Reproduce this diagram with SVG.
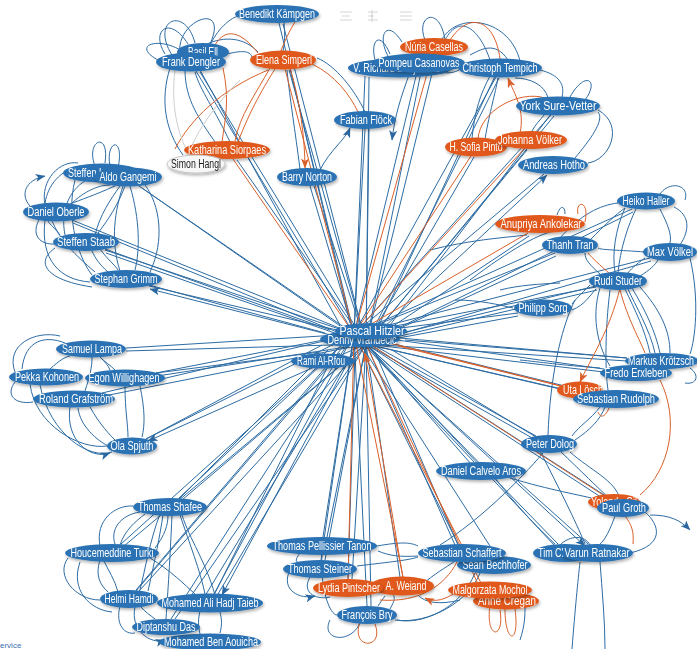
<svg xmlns="http://www.w3.org/2000/svg" width="697" height="649" viewBox="0 0 697 649">
<style>
.eb{fill:none;stroke:#2d6ca3;stroke-width:1}
.eo{fill:none;stroke:#d9602a;stroke-width:1}
.eg{fill:none;stroke:#cfcfcf;stroke-width:1}
.nb ellipse{fill:#2a72b3}
.no ellipse{fill:#e0591b}
.nw ellipse{fill:#f7f7f7;stroke:#c4c4c4;stroke-width:1}
g.n{filter:url(#sh)}
text{font-family:"Liberation Sans",Arial,sans-serif;font-size:12px;fill:#fff;text-anchor:middle}
.nw text{fill:#222}
.ic{fill:none;stroke:#bbb;stroke-width:1.2;opacity:.6}
</style>
<defs>
<filter id="sh" x="-20%" y="-40%" width="140%" height="200%">
<feDropShadow dx="1" dy="2" stdDeviation="1.5" flood-color="#000" flood-opacity="0.3"/>
</filter>
<marker id="ab" viewBox="0 0 10 8" refX="9.5" refY="4" markerWidth="10" markerHeight="8" markerUnits="userSpaceOnUse" orient="auto"><path d="M0,0 L10,4 L0,8 L2.5,4z" fill="#2a67a0"/></marker>
<marker id="ao" viewBox="0 0 10 8" refX="9.5" refY="4" markerWidth="10" markerHeight="8" markerUnits="userSpaceOnUse" orient="auto"><path d="M0,0 L10,4 L0,8 L2.5,4z" fill="#d9602a"/></marker>
</defs>
<rect width="697" height="649" fill="#fff"/>
<g id="toolbar">
<path class="ic" d="M340 12h12M342 16h8M340 20h12M368 12h10M368 16h6M368 20h10M372 10v12M400 12h12M400 16h12M400 20h12"/>
</g>
<text x="-4" y="648" style="font-size:8px;fill:#3b6fb0;text-anchor:start">service</text>
<g id="connectors">
<g class="eb" marker-end="url(#ab)">
<path d="M354 334L279 23M366 344L283 24M354 334L196 71M366 344L200 72M366 344L289 70M354 334L365 129M366 344L369 129M366 344L237 160M354 334L310 186M366 344L314 186M366 344L436 57M354 334L417 72M366 344L421 72M354 334L365 76M366 344L369 77M354 334L496 77M366 344L499 78M354 334L551 115M366 344L554 116M366 344L474 157M366 344L527 150M354 334L544 174M366 344L547 175"/>
<path d="M354 334L139 186M366 344L142 188M354 334L72 220M366 344L73 223M354 334L105 250M366 344L106 253M354 334L149 286M366 344L150 289"/>
<path d="M354 334L632 209M366 344L633 212M366 344L529 236M354 334L555 253M366 344L556 256M354 334L650 258M366 344L651 261M354 334L596 287M366 344L597 290M354 334L518 313M366 344L518 316M354 334L627 358M366 344L627 361M354 334L604 369M366 344L604 372M366 344L560 389M354 334L589 392M366 344L588 395M354 334L536 436M366 344L534 439M354 334L474 462M366 344L471 464M354 334L612 500M366 344L610 503M354 334L558 544M366 344L555 546M354 334L588 544M366 344L585 546"/>
<path d="M354 334L458 544M366 344L455 545M354 334L497 557M366 344L400 577M366 344L352 579M354 334L367 606M366 344L371 606M354 334L321 560M366 344L325 560M354 334L323 537M366 344L327 537M354 334L179 498M366 344L182 500M354 334L121 544M366 344L124 546M354 334L136 590M366 344L139 591M354 334L214 594M366 344L218 594M354 334L171 619M366 344L175 619M360 340L205 596M360 340L222 595"/>
<path d="M354 334L126 348M366 344L126 351M354 334L156 373M366 344L157 376M354 334L102 393M366 344L104 396M354 334L146 439M366 344L148 441"/>
<path d="M200 70L340 325M290 68L350 323M495 76L380 323M596 286L402 333M536 437L392 350M458 545L375 352M348 580L355 353M214 595L335 352M179 499L328 350M146 439L322 345M149 285L325 333M105 249L330 330M551 114L390 325M627 358L405 340M156 373L320 352M136 591L340 353"/>
<path d="M172 55C150 20 185 5 195 43M180 54C175 20 230 0 210 44M210 45C220 25 232 18 238 16M158 60C130 45 160 35 185 53M165 54C150 30 170 15 188 44M205 45C225 35 245 38 258 52M220 56C240 50 250 50 252 57M284 22C285 35 285 40 283 51M365 112C355 90 335 65 317 58M185 70C185 100 200 120 215 142M230 142C215 110 200 90 195 72M170 68C160 100 165 130 183 155M300 169C295 130 290 100 287 70M320 170C330 150 345 140 350 128"/>
<path d="M392 62C375 40 385 15 402 42M425 40C415 15 440 5 445 40M445 40C460 12 480 30 490 60M375 60C370 40 380 30 390 54M520 61C510 20 460 10 442 39M470 55C480 50 495 40 508 60M540 70C560 75 565 85 562 97M548 98C545 85 530 78 515 78M598 110C625 125 610 160 588 163M575 158C590 140 605 120 598 112M545 114C540 120 535 125 532 131M490 76C480 95 475 110 472 138M485 139C490 110 495 95 498 78M440 72C450 74 455 72 459 70M585 100C600 80 585 70 570 97M410 72C400 100 395 115 392 140"/>
<path d="M95 166C85 140 110 130 105 163M110 166C105 140 125 135 118 168M45 205C40 180 60 160 78 163M80 166C60 170 48 185 45 203M70 205C85 190 100 185 110 185M115 186C95 195 80 200 70 204M40 218C30 235 40 245 55 244M60 235C55 228 50 225 48 221M45 220C40 260 60 280 90 282M95 272C75 255 60 240 52 221M95 235C100 215 110 200 120 186M125 186C118 205 108 220 98 233M100 249C108 260 115 265 118 270M108 272C100 265 95 258 92 251M130 186C140 220 140 250 135 270M120 271C110 240 115 210 123 186M75 180C65 220 80 260 92 275M65 235C60 210 70 190 85 181M150 272C165 240 160 205 145 185M55 248C35 262 45 280 92 287M30 206C20 195 25 180 45 176"/>
<path d="M660 194C670 180 690 185 685 200M625 208C615 230 612 255 615 272M618 273C620 250 628 225 636 209M660 209C668 225 672 235 670 243M680 245C690 230 690 215 674 207M590 240C605 225 615 215 625 208M560 238C580 215 600 205 618 203M565 214C565 205 560 205 557 215M600 274C590 265 585 260 585 253M640 276C650 270 655 265 658 260M645 258C635 265 630 270 628 273M645 252C620 250 600 250 598 248M690 258C700 300 695 340 690 354M590 285C580 295 575 300 572 304M572 310C585 305 590 295 596 289M625 289C635 310 645 330 650 353M632 288C645 310 655 330 660 353M640 287C660 310 670 330 670 353M655 353C650 330 635 305 628 289M600 288C590 320 600 350 610 366M610 290C605 330 605 370 608 390M690 368C700 375 697 385 685 383M575 440C590 430 600 420 605 407M600 407C590 420 580 425 572 436M560 451C580 470 600 490 610 499M570 452C590 470 615 480 620 499M510 478C550 490 580 495 600 500M615 516C610 530 605 540 600 544M645 512C660 525 665 545 630 553M560 545C570 535 585 535 590 545M540 451C560 490 575 520 585 544M495 478C520 510 540 530 555 544M572 649C575 610 578 580 580 562M605 649C605 620 602 590 600 562M440 545C480 520 520 480 543 453M500 290C520 285 540 284 560 283M455 300C480 300 500 305 513 308M470 280C510 250 540 232 560 230M575 300C560 330 550 380 548 435M520 360C540 362 560 365 600 368M430 250C470 240 500 238 527 235M650 515C670 515 680 520 690 530"/>
<path d="M377 546C400 542 410 542 418 546M418 556C400 557 390 556 378 551M357 566C390 562 410 560 418 557M425 582C440 570 450 565 455 561M395 620C430 625 470 600 480 573M475 573C460 610 420 625 397 620M460 600C440 605 425 603 418 595M390 609C395 600 395 598 393 594M385 596C382 600 380 603 378 606M310 577C300 595 320 600 330 597M300 553C295 560 295 562 300 563M322 554C320 590 330 615 337 615M520 640C525 625 525 615 525 607M330 620C320 640 350 645 360 623M290 570C280 590 300 600 315 596"/>
<path d="M140 512C120 515 110 530 115 544M120 545C125 530 135 522 145 514M100 546C95 520 115 505 133 506M100 560C95 575 100 585 108 592M118 592C115 580 108 570 104 561M68 558C55 575 75 600 100 600M160 514C150 540 145 570 140 590M148 591C155 560 160 535 163 515M180 515C190 545 200 570 205 594M215 595C205 560 190 540 182 515M172 515C170 560 168 590 166 619M150 558C170 570 185 585 195 594M120 606C115 625 125 635 135 633M140 606C145 612 150 615 155 619M200 611C198 620 198 625 200 634M220 633C222 625 222 620 220 612M155 548C165 535 168 525 168 515M80 562C70 590 90 610 112 612M135 607C130 630 150 645 165 640"/>
<path d="M15 372C5 345 35 330 60 336M65 343C45 335 25 340 22 369M100 357C105 362 108 365 110 370M115 370C110 365 105 362 100 357M50 369C60 360 65 357 70 356M85 391C90 375 92 368 92 357M140 386C145 410 145 425 142 437M125 386C125 410 128 425 128 437M90 407C100 425 110 435 115 440M112 448C95 440 80 425 78 408M30 384C35 425 80 450 107 446M40 385C50 435 90 460 112 452M15 382C5 395 15 405 33 402M70 407C65 440 90 460 110 453"/>
</g>
<g class="eo" marker-end="url(#ao)">
<path d="M354 334L285 69M354 334L233 159M354 334L432 56M354 334L471 156M354 334L524 149M354 334L528 233M354 334L561 386M354 334L603 495M354 334L481 583M366 344L478 584M354 334L403 577M354 334L348 579M561 386L398 346M403 578L365 353"/>
<path d="M258 53C240 30 225 28 215 45M278 58C285 40 290 30 295 22M312 64C335 75 350 95 358 112M270 68C255 95 240 115 235 141M238 142C250 110 265 85 275 69M268 70C220 90 190 120 175 149M222 142C225 120 230 100 223 68M290 68C300 100 305 140 305 168"/>
<path d="M450 40C470 10 495 20 500 59M478 139C480 110 520 90 545 98M520 133C525 110 515 95 508 78"/>
<path d="M585 222C590 200 575 200 578 214M610 274C600 265 592 258 588 253M620 290C628 320 640 340 645 353M660 380C680 420 670 470 640 495M598 412C600 418 605 418 609 408M625 516C632 525 634 532 633 544M620 288C610 330 590 360 580 382"/>
<path d="M380 600C420 603 445 585 457 562M360 622C350 650 385 650 375 624M490 605C485 640 505 640 500 610M505 609C505 645 520 645 515 609M460 590C445 600 435 603 425 598"/>
</g>
<path class="eg" d="M175 70C170 110 180 140 190 156M240 80C220 100 200 125 190 150"/>
</g>
<g id="nodes">
<g id="n-benedikt" class="n nb"><ellipse cx="277" cy="14" rx="42" ry="9"/><text x="277" y="18" textLength="76" lengthAdjust="spacingAndGlyphs">Benedikt Kämpgen</text></g>
<g id="n-basil" class="n nb"><ellipse cx="203" cy="52" rx="26" ry="9"/><text x="203" y="56" textLength="30" lengthAdjust="spacingAndGlyphs">Basil Ell</text></g>
<g id="n-frank" class="n nb"><ellipse cx="191" cy="62" rx="35" ry="9.5"/><text x="191" y="66" textLength="58" lengthAdjust="spacingAndGlyphs">Frank Dengler</text></g>
<g id="n-elena" class="n no"><ellipse cx="283" cy="60" rx="33" ry="9.5"/><text x="284" y="64" textLength="56" lengthAdjust="spacingAndGlyphs">Elena Simperl</text></g>
<g id="n-fabian" class="n nb"><ellipse cx="365" cy="120" rx="31" ry="9"/><text x="366" y="124" textLength="52" lengthAdjust="spacingAndGlyphs">Fabian Flöck</text></g>
<g id="n-katharina" class="n no"><ellipse cx="227" cy="150" rx="43" ry="9"/><text x="227" y="154" textLength="78" lengthAdjust="spacingAndGlyphs">Katharina Siorpaes</text></g>
<g id="n-simon" class="n nw"><ellipse cx="196" cy="164" rx="29" ry="9"/><text x="196" y="168" textLength="50" lengthAdjust="spacingAndGlyphs">Simon Hangl</text></g>
<g id="n-barry" class="n nb"><ellipse cx="307" cy="177" rx="30" ry="9"/><text x="307" y="181" textLength="50" lengthAdjust="spacingAndGlyphs">Barry Norton</text></g>
<g id="n-nuria" class="n no"><ellipse cx="434" cy="47" rx="34" ry="9"/><text x="434" y="51" textLength="58" lengthAdjust="spacingAndGlyphs">Núria Casellas</text></g>
<g id="n-vrich" class="n nb"><ellipse cx="400" cy="68" rx="52" ry="9.5"/><text x="353" y="72" style="text-anchor:start" textLength="87" lengthAdjust="spacingAndGlyphs">V. Richard Benjamins</text></g>
<g id="n-pompeu" class="n nb"><ellipse cx="419" cy="63" rx="46" ry="9.5"/><text x="419" y="67" textLength="81" lengthAdjust="spacingAndGlyphs">Pompeu Casanovas</text></g>
<g id="n-christoph" class="n nb"><ellipse cx="500" cy="68" rx="42" ry="9.5"/><text x="500" y="72" textLength="75" lengthAdjust="spacingAndGlyphs">Christoph Tempich</text></g>
<g id="n-york" class="n nb"><ellipse cx="558" cy="106" rx="42" ry="9.5"/><text x="558" y="110" textLength="77" lengthAdjust="spacingAndGlyphs">York Sure-Vetter</text></g>
<g id="n-sofia" class="n no"><ellipse cx="476" cy="147" rx="31" ry="9.5"/><text x="476" y="151" textLength="53" lengthAdjust="spacingAndGlyphs">H. Sofia Pinto</text></g>
<g id="n-johanna" class="n no"><ellipse cx="531" cy="140" rx="36" ry="9"/><text x="530" y="144" textLength="64" lengthAdjust="spacingAndGlyphs">Johanna Völker</text></g>
<g id="n-andreas" class="n nb"><ellipse cx="553" cy="165" rx="35" ry="9"/><text x="554" y="169" textLength="62" lengthAdjust="spacingAndGlyphs">Andreas Hotho</text></g>
<g id="n-steffenl" class="n nb"><ellipse cx="102" cy="173" rx="39" ry="9.5"/><text x="68" y="177" style="text-anchor:start" textLength="72" lengthAdjust="spacingAndGlyphs">Steffen Lamparter</text></g>
<g id="n-aldo" class="n nb"><ellipse cx="128" cy="177" rx="34" ry="9.5"/><text x="128" y="181" textLength="57" lengthAdjust="spacingAndGlyphs">Aldo Gangemi</text></g>
<g id="n-daniel" class="n nb"><ellipse cx="56" cy="212" rx="33" ry="9.5"/><text x="56" y="216" textLength="57" lengthAdjust="spacingAndGlyphs">Daniel Oberle</text></g>
<g id="n-staab" class="n nb"><ellipse cx="86" cy="242" rx="33" ry="9"/><text x="86" y="246" textLength="58" lengthAdjust="spacingAndGlyphs">Steffen Staab</text></g>
<g id="n-grimm" class="n nb"><ellipse cx="126" cy="279" rx="36" ry="9"/><text x="126" y="283" textLength="63" lengthAdjust="spacingAndGlyphs">Stephan Grimm</text></g>
<g id="n-heiko" class="n nb"><ellipse cx="646" cy="201" rx="29" ry="8.5"/><text x="646" y="205" textLength="47" lengthAdjust="spacingAndGlyphs">Heiko Haller</text></g>
<g id="n-anupriya" class="n no"><ellipse cx="540" cy="224" rx="45" ry="9"/><text x="541" y="228" textLength="81" lengthAdjust="spacingAndGlyphs">Anupriya Ankolekar</text></g>
<g id="n-thanh" class="n nb"><ellipse cx="570" cy="245" rx="28" ry="9"/><text x="570" y="249" textLength="47" lengthAdjust="spacingAndGlyphs">Thanh Tran</text></g>
<g id="n-max" class="n nb"><ellipse cx="670" cy="252" rx="27" ry="9"/><text x="670" y="256" textLength="46" lengthAdjust="spacingAndGlyphs">Max Völkel</text></g>
<g id="n-rudi" class="n nb"><ellipse cx="618" cy="281" rx="29" ry="9"/><text x="618" y="285" textLength="48" lengthAdjust="spacingAndGlyphs">Rudi Studer</text></g>
<g id="n-philipp" class="n nb"><ellipse cx="543" cy="308" rx="29" ry="8.5"/><text x="543" y="312" textLength="49" lengthAdjust="spacingAndGlyphs">Philipp Sorg</text></g>
<g id="n-markus" class="n nb"><ellipse cx="662" cy="361" rx="37" ry="8"/><text x="661" y="365" textLength="66" lengthAdjust="spacingAndGlyphs">Markus Krötzsch</text></g>
<g id="n-fredo" class="n nb"><ellipse cx="636" cy="373" rx="36" ry="8"/><text x="636" y="377" textLength="63" lengthAdjust="spacingAndGlyphs">Fredo Erxleben</text></g>
<g id="n-uta" class="n no"><ellipse cx="580" cy="390" rx="23" ry="8.5"/><text x="583" y="394" textLength="40" lengthAdjust="spacingAndGlyphs">Uta Lösch</text></g>
<g id="n-srudolph" class="n nb"><ellipse cx="616" cy="399" rx="43" ry="9"/><text x="616" y="403" textLength="78" lengthAdjust="spacingAndGlyphs">Sebastian Rudolph</text></g>
<g id="n-dolog" class="n nb"><ellipse cx="549" cy="444" rx="28" ry="9"/><text x="550" y="448" textLength="48" lengthAdjust="spacingAndGlyphs">Peter Dolog</text></g>
<g id="n-calvelo" class="n nb"><ellipse cx="481" cy="471" rx="45" ry="9"/><text x="481" y="475" textLength="80" lengthAdjust="spacingAndGlyphs">Daniel Calvelo Aros</text></g>
<g id="n-yolanda" class="n no"><ellipse cx="614" cy="502" rx="26" ry="8"/><text x="614" y="506" textLength="46" lengthAdjust="spacingAndGlyphs">Yolanda Gil</text></g>
<g id="n-groth" class="n nb"><ellipse cx="623" cy="508" rx="26" ry="9"/><text x="624" y="512" textLength="44" lengthAdjust="spacingAndGlyphs">Paul Groth</text></g>
<g id="n-timc" class="n nb"><ellipse cx="565" cy="553" rx="32" ry="9"/><text x="538" y="557" style="text-anchor:start" textLength="38" lengthAdjust="spacingAndGlyphs">Tim Clark</text></g>
<g id="n-varun" class="n nb"><ellipse cx="597" cy="553" rx="36" ry="9"/><text x="597" y="557" textLength="65" lengthAdjust="spacingAndGlyphs">Varun Ratnakar</text></g>
<g id="n-bechhofer" class="n nb"><ellipse cx="494" cy="565" rx="37" ry="9"/><text x="495" y="569" textLength="65" lengthAdjust="spacingAndGlyphs">Sean Bechhofer</text></g>
<g id="n-schaffert" class="n nb"><ellipse cx="462" cy="553" rx="44" ry="9"/><text x="462" y="557" textLength="79" lengthAdjust="spacingAndGlyphs">Sebastian Schaffert</text></g>
<g id="n-cregan" class="n no"><ellipse cx="506" cy="601" rx="33" ry="8.5"/><text x="507" y="605" textLength="58" lengthAdjust="spacingAndGlyphs">Anne Cregan</text></g>
<g id="n-mochol" class="n no"><ellipse cx="490" cy="590" rx="42" ry="8.5"/><text x="490" y="594" textLength="75" lengthAdjust="spacingAndGlyphs">Malgorzata Mochol</text></g>
<g id="n-tanon" class="n nb"><ellipse cx="322" cy="546" rx="55" ry="9"/><text x="322" y="550" textLength="99" lengthAdjust="spacingAndGlyphs">Thomas Pellissier Tanon</text></g>
<g id="n-steiner" class="n nb"><ellipse cx="320" cy="569" rx="37" ry="9"/><text x="320" y="573" textLength="64" lengthAdjust="spacingAndGlyphs">Thomas Steiner</text></g>
<g id="n-weiand" class="n no"><ellipse cx="402" cy="586" rx="32" ry="9.5"/><text x="406" y="590" textLength="41" lengthAdjust="spacingAndGlyphs">A. Weiand</text></g>
<g id="n-lydia" class="n no"><ellipse cx="348" cy="588" rx="35" ry="9"/><text x="349" y="592" textLength="62" lengthAdjust="spacingAndGlyphs">Lydia Pintscher</text></g>
<g id="n-bry" class="n nb"><ellipse cx="367" cy="615" rx="30" ry="9"/><text x="367" y="619" textLength="51" lengthAdjust="spacingAndGlyphs">François Bry</text></g>
<g id="n-shafee" class="n nb"><ellipse cx="170" cy="507" rx="37" ry="9"/><text x="170" y="511" textLength="64" lengthAdjust="spacingAndGlyphs">Thomas Shafee</text></g>
<g id="n-turki" class="n nb"><ellipse cx="112" cy="553" rx="47" ry="9"/><text x="112" y="557" textLength="83" lengthAdjust="spacingAndGlyphs">Houcemeddine Turki</text></g>
<g id="n-hamdi" class="n nb"><ellipse cx="129" cy="599" rx="29" ry="9"/><text x="129" y="603" textLength="49" lengthAdjust="spacingAndGlyphs">Helmi Hamdi</text></g>
<g id="n-taieb" class="n nb"><ellipse cx="210" cy="603" rx="53" ry="9.5"/><text x="210" y="607" textLength="97" lengthAdjust="spacingAndGlyphs">Mohamed Ali Hadj Taieb</text></g>
<g id="n-aouicha" class="n nb"><ellipse cx="210" cy="642" rx="51" ry="8.5"/><text x="211" y="646" textLength="94" lengthAdjust="spacingAndGlyphs">Mohamed Ben Aouicha</text></g>
<g id="n-das" class="n nb"><ellipse cx="166" cy="627" rx="34" ry="8"/><text x="166" y="631" textLength="59" lengthAdjust="spacingAndGlyphs">Diptanshu Das</text></g>
<g id="n-samuel" class="n nb"><ellipse cx="91" cy="349" rx="35" ry="8.5"/><text x="92" y="353" textLength="60" lengthAdjust="spacingAndGlyphs">Samuel Lampa</text></g>
<g id="n-pekka" class="n nb"><ellipse cx="46" cy="377" rx="37" ry="8.5"/><text x="47" y="381" textLength="64" lengthAdjust="spacingAndGlyphs">Pekka Kohonen</text></g>
<g id="n-egon" class="n nb"><ellipse cx="125" cy="378" rx="40" ry="8.5"/><text x="124" y="382" textLength="71" lengthAdjust="spacingAndGlyphs">Egon Willighagen</text></g>
<g id="n-roland" class="n nb"><ellipse cx="74" cy="399" rx="41" ry="8.5"/><text x="76" y="403" textLength="74" lengthAdjust="spacingAndGlyphs">Roland Grafström</text></g>
<g id="n-ola" class="n nb"><ellipse cx="132" cy="446" rx="25" ry="8.5"/><text x="132" y="450" textLength="43" lengthAdjust="spacingAndGlyphs">Ola Spjuth</text></g>
<g id="n-denny" class="n nb"><ellipse cx="360" cy="339" rx="40" ry="8"/><text x="362" y="344" textLength="69" lengthAdjust="spacingAndGlyphs">Denny Vrandečić</text></g>
<g id="n-pascal" class="n nb"><ellipse cx="371" cy="331" rx="36" ry="8"/><text x="372" y="335" textLength="65" lengthAdjust="spacingAndGlyphs">Pascal Hitzler</text></g>
<g id="n-rami" class="n nb"><ellipse cx="323" cy="361" rx="32" ry="7.5"/><text x="321" y="365" textLength="48" lengthAdjust="spacingAndGlyphs">Rami Al-Rfou</text></g>
</g>
</svg>
